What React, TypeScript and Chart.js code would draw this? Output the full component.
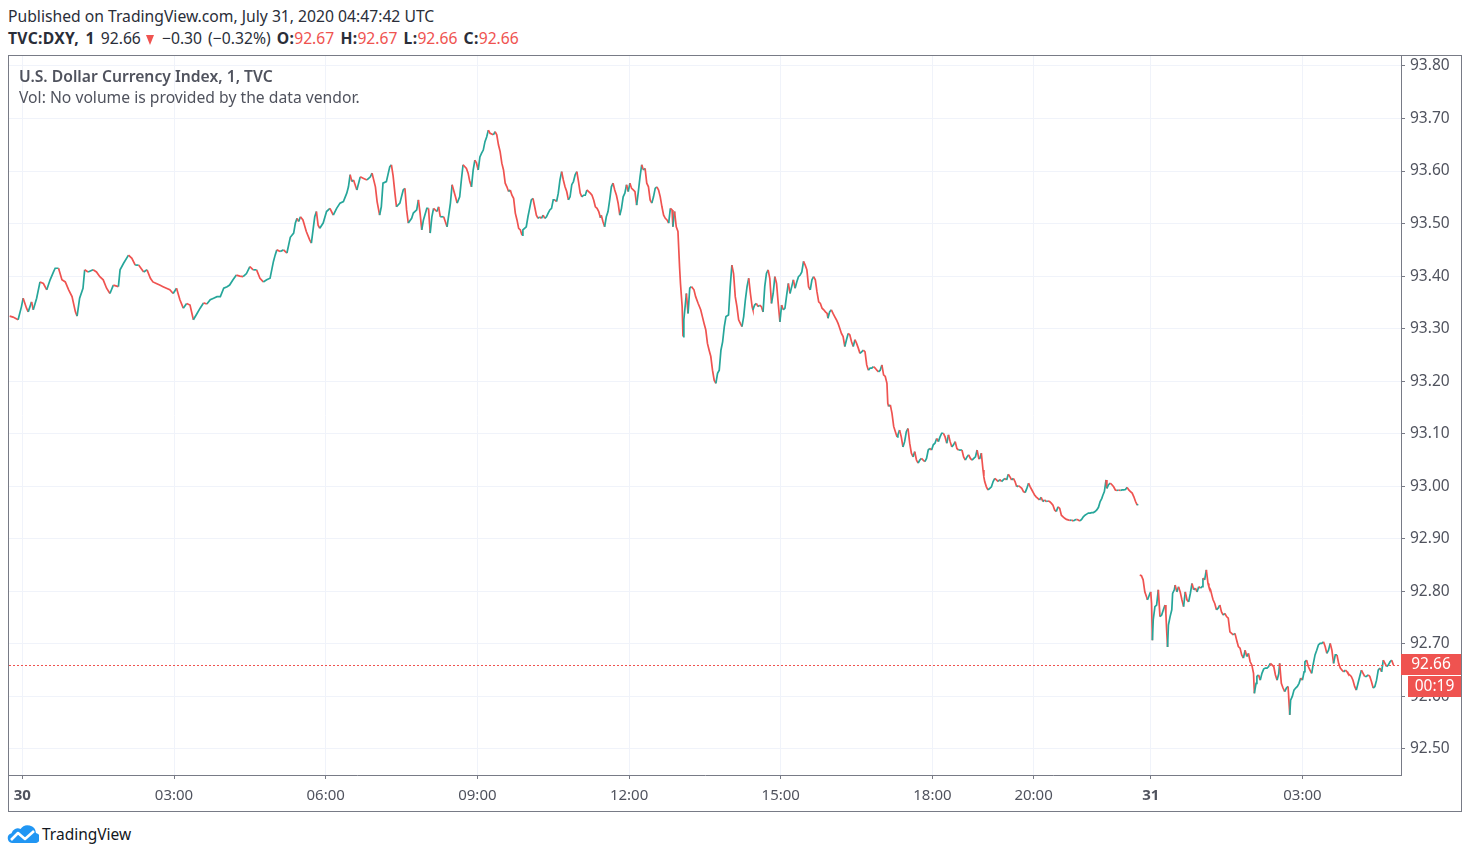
import React, { useEffect, useRef } from "react";
import { Chart, registerables } from "chart.js";

Chart.register(...registerables);

const FONT = "'Noto Sans', 'DejaVu Sans', sans-serif";
const UP = "#26a69a";
const DOWN = "#ef5350";
const AXIS_TEXT = "#50535e";
const GRID = "#f0f3fa";
const BORDER = "#787b86";

// price axis ticks
const priceTicks = [92.5, 92.6, 92.7, 92.8, 92.9, 93.0, 93.1, 93.2, 93.3, 93.4, 93.5, 93.6, 93.7, 93.8];
// time axis: bar index (1-minute bars, session gap removed) of each tick
const timeTickBars = [0, 180, 360, 540, 720, 900, 1080, 1200, 1339, 1519];
const timeTickLabels = ["30", "03:00", "06:00", "09:00", "12:00", "15:00", "18:00", "20:00", "31", "03:00"];
const boldTimeLabels = ["30", "31"];
const lastPrice = 92.66;
const countdown = "00:19";
const xRange = [-15.8, 1636];
const yRange = [92.4505, 93.819];

// Session 1 (Jul 30): bar index and close
const session1Bars = [
  -15, -11, -5, -1, 1, 5, 7, 11, 13, 17,
  21, 25, 29, 33, 37, 39, 43, 47, 51, 55,
  59, 63, 65, 68, 72, 74, 78, 84, 88, 92,
  96, 100, 104, 108, 114, 116, 120, 126, 130, 134,
  138, 144, 148, 152, 155, 159, 163, 167, 171, 175,
  179, 183, 187, 191, 195, 199, 203, 207, 211, 215,
  219, 223, 227, 231, 235, 239, 243, 246, 250, 254,
  258, 262, 266, 270, 274, 278, 282, 286, 290, 294,
  298, 300, 302, 306, 310, 314, 318, 322, 324, 326,
  328, 330, 333, 337, 341, 343, 345, 347, 349, 351,
  353, 357, 361, 365, 369, 373, 377, 381, 385, 387,
  389, 391, 393, 397, 401, 405, 409, 413, 415, 419,
  421, 424, 426, 428, 432, 436, 438, 440, 442, 444,
  448, 452, 454, 456, 458, 462, 464, 468, 470, 472,
  474, 476, 480, 482, 484, 486, 488, 492, 494, 496,
  500, 504, 506, 508, 510, 514, 516, 519, 521, 523,
  527, 529, 531, 533, 535, 537, 539, 541, 543, 545,
  547, 549, 551, 553, 555, 559, 561, 563, 565, 567,
  569, 571, 573, 575, 577, 579, 581, 583, 585, 587,
  589, 591, 593, 594, 596, 598, 600, 602, 604, 606,
  608, 610, 612, 614, 616, 618, 620, 622, 624, 626,
  628, 630, 632, 634, 636, 638, 640, 642, 644, 646,
  648, 650, 652, 654, 656, 658, 660, 662, 664, 666,
  668, 670, 672, 674, 676, 678, 680, 682, 684, 686,
  687, 689, 691, 693, 695, 697, 699, 701, 703, 705,
  707, 709, 711, 713, 715, 717, 719, 721, 723, 725,
  727, 729, 731, 733, 735, 737, 739, 741, 743, 745,
  747, 749, 751, 753, 755, 757, 759, 761, 763, 765,
  767, 769, 771, 772, 774, 776, 778, 780, 781, 783,
  784, 785, 788, 790, 792, 794, 797, 799, 802, 805,
  807, 809, 811, 813, 815, 817, 819, 821, 823, 825,
  827, 829, 831, 833, 835, 838, 840, 842, 844, 846,
  848, 850, 852, 854, 856, 858, 860, 862, 864, 866,
  867, 869, 871, 873, 875, 877, 879, 881, 883, 885,
  887, 889, 891, 893, 895, 897, 899, 901, 903, 905,
  907, 909, 911, 913, 915, 917, 919, 921, 923, 925,
  927, 929, 931, 933, 935, 937, 939, 941, 943, 945,
  947, 949, 951, 953, 955, 956, 958, 960, 962, 964,
  966, 968, 970, 972, 974, 976, 978, 980, 982, 984,
  986, 988, 990, 992, 994, 996, 998, 1000, 1002, 1004,
  1006, 1008, 1010, 1012, 1014, 1016, 1018, 1020, 1022, 1024,
  1026, 1027, 1028, 1030, 1032, 1034, 1036, 1038, 1039, 1041,
  1043, 1045, 1047, 1049, 1051, 1053, 1055, 1057, 1059, 1061,
  1063, 1065, 1067, 1069, 1071, 1073, 1075, 1077, 1079, 1081,
  1083, 1085, 1087, 1089, 1091, 1093, 1095, 1097, 1099, 1101,
  1103, 1105, 1107, 1109, 1111, 1113, 1115, 1117, 1119, 1121,
  1123, 1125, 1127, 1129, 1131, 1133, 1135, 1136, 1138, 1140,
  1141, 1142, 1144, 1146, 1148, 1150, 1152, 1154, 1156, 1158,
  1160, 1162, 1164, 1166, 1168, 1170, 1172, 1174, 1176, 1178,
  1180, 1182, 1184, 1186, 1188, 1190, 1192, 1194, 1196, 1198,
  1200, 1201, 1203, 1205, 1207, 1209, 1211, 1213, 1215, 1217,
  1219, 1221, 1223, 1225, 1227, 1229, 1231, 1233, 1235, 1237,
  1239, 1241, 1243, 1245, 1247, 1249, 1251, 1253, 1255, 1257,
  1259, 1261, 1263, 1265, 1267, 1269, 1271, 1273, 1275, 1277,
  1279, 1281, 1282, 1284, 1286, 1287, 1289, 1291, 1293, 1295,
  1297, 1299, 1301, 1303, 1305, 1307, 1309, 1311, 1313, 1315,
  1317, 1319, 1321, 1323, 1324,
];
const session1Closes = [
  93.324, 93.322, 93.317, 93.342, 93.358, 93.339, 93.332, 93.351, 93.336, 93.358,
  93.389, 93.386, 93.374, 93.393, 93.408, 93.415, 93.415, 93.393, 93.389, 93.374,
  93.361, 93.332, 93.324, 93.358, 93.377, 93.412, 93.408, 93.412, 93.408, 93.399,
  93.393, 93.377, 93.367, 93.383, 93.380, 93.412, 93.424, 93.440, 93.434, 93.421,
  93.421, 93.408, 93.412, 93.396, 93.389, 93.386, 93.383, 93.380, 93.377, 93.374,
  93.367, 93.377, 93.355, 93.339, 93.348, 93.345, 93.317, 93.328, 93.339, 93.349,
  93.347, 93.355, 93.358, 93.361, 93.361, 93.377, 93.380, 93.383, 93.393, 93.402,
  93.400, 93.399, 93.405, 93.418, 93.412, 93.412, 93.396, 93.389, 93.393, 93.396,
  93.428, 93.440, 93.450, 93.447, 93.450, 93.444, 93.474, 93.482, 93.501, 93.510,
  93.504, 93.513, 93.507, 93.485, 93.469, 93.463, 93.488, 93.513, 93.523, 93.497,
  93.491, 93.501, 93.523, 93.529, 93.516, 93.529, 93.539, 93.542, 93.558, 93.570,
  93.593, 93.580, 93.583, 93.564, 93.589, 93.586, 93.583, 93.589, 93.596, 93.570,
  93.542, 93.516, 93.532, 93.577, 93.580, 93.608, 93.612, 93.591, 93.560, 93.532,
  93.539, 93.564, 93.567, 93.526, 93.501, 93.510, 93.520, 93.526, 93.545, 93.520,
  93.488, 93.507, 93.529, 93.529, 93.482, 93.513, 93.529, 93.523, 93.532, 93.513,
  93.513, 93.494, 93.516, 93.539, 93.574, 93.551, 93.539, 93.551, 93.583, 93.612,
  93.605, 93.596, 93.580, 93.570, 93.602, 93.621, 93.615, 93.602, 93.627, 93.634,
  93.640, 93.656, 93.665, 93.678, 93.672, 93.669, 93.675, 93.669, 93.650, 93.637,
  93.615, 93.602, 93.577, 93.570, 93.561, 93.564, 93.554, 93.548, 93.520, 93.507,
  93.491, 93.488, 93.478, 93.488, 93.491, 93.494, 93.513, 93.529, 93.545, 93.548,
  93.532, 93.516, 93.510, 93.513, 93.510, 93.516, 93.510, 93.513, 93.520, 93.526,
  93.529, 93.545, 93.545, 93.542, 93.558, 93.583, 93.599, 93.583, 93.570, 93.561,
  93.545, 93.551, 93.574, 93.580, 93.593, 93.599, 93.580, 93.558, 93.551, 93.554,
  93.554, 93.564, 93.561, 93.558, 93.554, 93.545, 93.532, 93.529, 93.523, 93.511,
  93.516, 93.504, 93.494, 93.513, 93.523, 93.545, 93.570, 93.577, 93.564, 93.554,
  93.539, 93.516, 93.529, 93.551, 93.558, 93.574, 93.561, 93.577, 93.567, 93.564,
  93.561, 93.535, 93.561, 93.589, 93.612, 93.602, 93.605, 93.577, 93.570, 93.545,
  93.539, 93.551, 93.567, 93.570, 93.564, 93.551, 93.532, 93.516, 93.510, 93.507,
  93.501, 93.529, 93.526, 93.494, 93.523, 93.494, 93.485, 93.415, 93.386, 93.342,
  93.285, 93.317, 93.367, 93.329, 93.377, 93.380, 93.374, 93.361, 93.348, 93.336,
  93.323, 93.310, 93.298, 93.272, 93.259, 93.247, 93.221, 93.202, 93.196, 93.215,
  93.221, 93.259, 93.275, 93.304, 93.323, 93.326, 93.380, 93.421, 93.405, 93.361,
  93.342, 93.317, 93.310, 93.304, 93.323, 93.355, 93.380, 93.396, 93.367, 93.342,
  93.336, 93.345, 93.348, 93.342, 93.345, 93.342, 93.332, 93.380, 93.405, 93.412,
  93.396, 93.348, 93.367, 93.399, 93.386, 93.348, 93.313, 93.345, 93.336, 93.339,
  93.364, 93.386, 93.367, 93.380, 93.393, 93.377, 93.389, 93.399, 93.402, 93.408,
  93.428, 93.421, 93.412, 93.380, 93.374, 93.393, 93.399, 93.393, 93.370, 93.351,
  93.348, 93.339, 93.336, 93.332, 93.329, 93.320, 93.332, 93.336, 93.329, 93.323,
  93.317, 93.310, 93.301, 93.291, 93.285, 93.266, 93.279, 93.291, 93.288, 93.275,
  93.266, 93.279, 93.272, 93.263, 93.253, 93.256, 93.259, 93.256, 93.231, 93.221,
  93.225, 93.225, 93.228, 93.225, 93.221, 93.218, 93.221, 93.231, 93.212, 93.209,
  93.196, 93.158, 93.152, 93.155, 93.139, 93.114, 93.104, 93.094, 93.098, 93.107,
  93.094, 93.075, 93.085, 93.104, 93.110, 93.082, 93.063, 93.056, 93.066, 93.050,
  93.044, 93.050, 93.053, 93.050, 93.047, 93.053, 93.069, 93.072, 93.069, 93.079,
  93.082, 93.091, 93.085, 93.094, 93.101, 93.101, 93.094, 93.082, 93.098, 93.085,
  93.075, 93.079, 93.085, 93.072, 93.069, 93.069, 93.069, 93.056, 93.050, 93.056,
  93.060, 93.053, 93.050, 93.053, 93.056, 93.069, 93.053, 93.052, 93.063, 93.031,
  93.018, 93.009, 92.999, 92.993, 92.996, 92.999, 93.009, 93.015, 93.012, 93.009,
  93.013, 93.009, 93.012, 93.015, 93.012, 93.023, 93.018, 93.012, 93.015, 93.009,
  92.999, 93.001, 92.999, 92.996, 92.990, 92.988, 92.996, 93.006, 92.999, 92.993,
  92.987, 92.984, 92.980, 92.977, 92.974, 92.979, 92.971, 92.974, 92.971, 92.972,
  92.971, 92.968, 92.964, 92.955, 92.952, 92.961, 92.958, 92.945, 92.942, 92.939,
  92.937, 92.936, 92.935, 92.936, 92.934, 92.936, 92.937, 92.936, 92.934, 92.937,
  92.942, 92.945, 92.947, 92.949, 92.949, 92.950, 92.950, 92.952, 92.955, 92.960,
  92.971, 92.977, 92.982, 92.990, 93.012, 92.996, 93.003, 93.006, 93.003, 92.999,
  92.993, 92.992, 92.993, 92.992, 92.993, 92.993, 92.994, 92.998, 92.993, 92.990,
  92.987, 92.980, 92.971, 92.964, 92.966,
];

// Session 2 (from Jul 30 evening into Jul 31)
const session2Bars = [
  1326, 1328, 1330, 1332, 1334, 1335, 1336, 1338, 1339, 1340,
  1341, 1342, 1344, 1346, 1348, 1350, 1352, 1354, 1356, 1357,
  1358, 1359, 1360, 1362, 1364, 1365, 1367, 1368, 1370, 1372,
  1374, 1376, 1378, 1380, 1382, 1384, 1386, 1388, 1390, 1392,
  1394, 1396, 1398, 1400, 1401, 1403, 1405, 1407, 1408, 1410,
  1412, 1413, 1415, 1417, 1419, 1421, 1423, 1425, 1427, 1429,
  1431, 1433, 1435, 1437, 1439, 1441, 1443, 1445, 1447, 1449,
  1451, 1453, 1455, 1457, 1459, 1461, 1462, 1464, 1465, 1467,
  1469, 1471, 1473, 1475, 1477, 1479, 1481, 1485, 1487, 1489,
  1491, 1492, 1494, 1496, 1498, 1500, 1502, 1504, 1505, 1507,
  1509, 1511, 1513, 1515, 1517, 1519, 1521, 1522, 1524, 1526,
  1528, 1530, 1532, 1534, 1536, 1538, 1540, 1542, 1544, 1546,
  1548, 1550, 1552, 1554, 1556, 1558, 1560, 1562, 1564, 1566,
  1568, 1570, 1572, 1573, 1575, 1577, 1579, 1581, 1583, 1585,
  1587, 1589, 1591, 1593, 1595, 1597, 1599, 1601, 1603, 1605,
  1607, 1609, 1611, 1613, 1615, 1617, 1619, 1621, 1623, 1625, 1627,
];
const session2Closes = [
  92.831, 92.830, 92.822, 92.799, 92.790, 92.784, 92.787, 92.796, 92.799, 92.777,
  92.707, 92.746, 92.771, 92.774, 92.803, 92.752, 92.755, 92.765, 92.774, 92.758,
  92.723, 92.694, 92.736, 92.752, 92.765, 92.796, 92.803, 92.812, 92.799, 92.809,
  92.799, 92.784, 92.771, 92.799, 92.784, 92.780, 92.796, 92.815, 92.803, 92.806,
  92.799, 92.809, 92.806, 92.809, 92.825, 92.822, 92.841, 92.815, 92.809, 92.803,
  92.790, 92.784, 92.777, 92.765, 92.768, 92.774, 92.761, 92.755, 92.758, 92.752,
  92.749, 92.723, 92.720, 92.717, 92.720, 92.707, 92.695, 92.692, 92.679, 92.673,
  92.688, 92.676, 92.682, 92.666, 92.660, 92.644, 92.606, 92.625, 92.638, 92.641,
  92.631, 92.644, 92.652, 92.654, 92.654, 92.657, 92.663, 92.657, 92.641, 92.631,
  92.644, 92.663, 92.625, 92.616, 92.609, 92.616, 92.619, 92.565, 92.593, 92.600,
  92.612, 92.616, 92.619, 92.625, 92.635, 92.631, 92.647, 92.666, 92.669, 92.657,
  92.650, 92.644, 92.663, 92.679, 92.688, 92.698, 92.701, 92.701, 92.704, 92.695,
  92.682, 92.688, 92.701, 92.688, 92.663, 92.679, 92.679, 92.663, 92.654, 92.650,
  92.647, 92.650, 92.647, 92.644, 92.641, 92.638, 92.631, 92.619, 92.612, 92.625,
  92.638, 92.650, 92.644, 92.638, 92.638, 92.641, 92.638, 92.628, 92.616, 92.619,
  92.631, 92.650, 92.654, 92.647, 92.669, 92.663, 92.657, 92.660, 92.666, 92.669, 92.660,
];

const lastPricePlugin = {
  id: "lastPrice",
  afterDatasetsDraw(chart: any) {
    const { ctx, chartArea, scales } = chart;
    const py = Math.round(scales.y.getPixelForValue(lastPrice)) + 0.5;
    ctx.save();
    ctx.strokeStyle = DOWN;
    ctx.lineWidth = 1;
    ctx.setLineDash([2, 2]);
    ctx.beginPath();
    ctx.moveTo(chartArea.left, py);
    ctx.lineTo(chartArea.right, py);
    ctx.stroke();
    ctx.restore();
  },
  afterDraw(chart: any) {
    const { ctx, chartArea, scales } = chart;
    const py = scales.y.getPixelForValue(lastPrice);
    const left = chartArea.right;
    const right = chart.width;
    const top1 = Math.round(py - 10.5);
    ctx.save();
    ctx.fillStyle = DOWN;
    ctx.fillRect(left, top1, right - left, 21);
    ctx.fillRect(left + 7, top1 + 22, right - left - 7, 21);
    ctx.fillStyle = "#ffffff";
    ctx.font = `15.5px ${FONT}`;
    ctx.textAlign = "center";
    ctx.textBaseline = "middle";
    ctx.fillText(lastPrice.toFixed(2), (left + right) / 2, top1 + 11);
    ctx.fillText(countdown, (left + 7 + right) / 2, top1 + 33);
    ctx.restore();
  },
};

function PriceChart() {
  const ref = useRef<HTMLCanvasElement>(null);
  useEffect(() => {
    const seg = {
      borderColor: (c: any) => (c.p1.parsed.y >= c.p0.parsed.y ? UP : DOWN),
    };
    const mk = (bars: number[], closes: number[]) => ({
      data: bars.map((b, i) => ({ x: b, y: closes[i] })),
      borderColor: UP,
      borderWidth: 1.7,
      pointRadius: 0,
      pointHoverRadius: 0,
      tension: 0,
      fill: false,
      segment: seg,
    });
    const noPad = (s: any) => {
      s.paddingTop = 0;
      s.paddingBottom = 0;
      s.paddingLeft = 0;
      s.paddingRight = 0;
    };
    const chart = new Chart(ref.current as HTMLCanvasElement, {
      type: "line",
      data: { datasets: [mk(session1Bars, session1Closes), mk(session2Bars, session2Closes)] as any },
      options: {
        animation: false,
        responsive: false,
        maintainAspectRatio: false,
        devicePixelRatio: 1,
        events: [],
        layout: { padding: 0 },
        plugins: { legend: { display: false }, tooltip: { enabled: false } },
        scales: {
          x: {
            type: "linear",
            position: "bottom",
            min: xRange[0],
            max: xRange[1],
            afterBuildTicks: (s: any) => {
              s.ticks = timeTickBars.map((v) => ({ value: v }));
            },
            afterFit: (s: any) => {
              s.height = 36;
              noPad(s);
            },
            ticks: {
              autoSkip: false,
              maxRotation: 0,
              minRotation: 0,
              padding: 8,
              color: AXIS_TEXT,
              callback: (v: any) => {
                const i = timeTickBars.indexOf(Number(v));
                return i >= 0 ? timeTickLabels[i] : "";
              },
              font: (ctx: any) => ({
                family: FONT,
                size: 15,
                weight: boldTimeLabels.includes(timeTickLabels[ctx.index]) ? "bold" : "normal",
              }),
            },
            grid: { color: GRID, tickColor: BORDER, tickLength: 4, drawTicks: true, lineWidth: 1 },
            border: { color: BORDER, width: 1 },
          } as any,
          y: {
            type: "linear",
            position: "right",
            min: yRange[0],
            max: yRange[1],
            afterBuildTicks: (s: any) => {
              s.ticks = priceTicks.map((v) => ({ value: v }));
            },
            afterFit: (s: any) => {
              s.width = 60;
              noPad(s);
            },
            ticks: {
              padding: 5,
              color: AXIS_TEXT,
              font: { family: FONT, size: 15.5 },
              callback: (v: any) => Number(v).toFixed(2),
            },
            grid: { color: GRID, tickColor: BORDER, tickLength: 4, drawTicks: true, lineWidth: 1 },
            border: { color: BORDER, width: 1 },
          } as any,
        },
      },
      plugins: [lastPricePlugin],
    });
    return () => chart.destroy();
  }, []);
  return <canvas ref={ref} width={1452} height={755} style={{ display: "block", width: 1452, height: 755 }} />;
}

function Logo() {
  return (
    <svg width="32" height="19" viewBox="0 0 32 19" style={{ position: "absolute", left: 7, top: 824 }}>
      <path
        d="M5 19 A5 5 0 0 1 4.5 9.2 A6.5 6.5 0 0 1 13.5 5 A8.5 8.5 0 0 1 29 9 A5 5 0 0 1 27 19 Z"
        fill="#2196f3"
      />
      <polyline points="4,16 11,9 18,15 27,7" fill="none" stroke="#ffffff" strokeWidth="2.6" strokeLinejoin="round" />
    </svg>
  );
}

export default function App() {
  const red = { color: DOWN };
  const bold = { fontWeight: 700, letterSpacing: "0.3px" };
  return (
    <div style={{ position: "absolute", left: 0, top: 0, width: 1470, height: 858, fontFamily: FONT }}>
      <div
        style={{
          position: "absolute",
          left: 8,
          top: 6,
          font: `15.7px/20px ${FONT}`,
          color: "#2a2e39",
          whiteSpace: "nowrap",
        }}
      >
        Published on TradingView.com, July 31, 2020 04:47:42 UTC
      </div>
      <div
        style={{
          position: "absolute",
          left: 8,
          top: 28,
          font: `15.7px/20px ${FONT}`,
          color: "#2a2e39",
          whiteSpace: "nowrap",
          wordSpacing: "2px",
        }}
      >
        <span style={bold}>TVC:DXY, 1</span> 92.66
        <span
          style={{
            display: "inline-block",
            width: 0,
            height: 0,
            marginLeft: 5,
            marginRight: 2,
            borderLeft: "4.5px solid transparent",
            borderRight: "4.5px solid transparent",
            borderTop: `10px solid ${DOWN}`,
            verticalAlign: "-1px",
          }}
        />{" "}
        −0.30 (−0.32%) <span style={bold}>O:</span>
        <span style={red}>92.67</span> <span style={bold}>H:</span>
        <span style={red}>92.67</span> <span style={bold}>L:</span>
        <span style={red}>92.66</span> <span style={bold}>C:</span>
        <span style={red}>92.66</span>
      </div>
      <div
        style={{
          position: "absolute",
          left: 8,
          top: 55,
          width: 1454,
          height: 757,
          boxSizing: "border-box",
          border: `1px solid ${BORDER}`,
        }}
      >
        <PriceChart />
        <div
          style={{
            position: "absolute",
            left: 10,
            top: 10,
            font: `600 15.7px/20px ${FONT}`,
            color: "#50535e",
            whiteSpace: "nowrap",
          }}
        >
          U.S. Dollar Currency Index, 1, TVC
        </div>
        <div
          style={{
            position: "absolute",
            left: 10,
            top: 31,
            font: `15.7px/20px ${FONT}`,
            color: "#50535e",
            whiteSpace: "nowrap",
          }}
        >
          Vol: No volume is provided by the data vendor.
        </div>
      </div>
      <Logo />
      <div
        style={{
          position: "absolute",
          left: 42,
          top: 824,
          font: `15.5px/20px ${FONT}`,
          color: "#131722",
          whiteSpace: "nowrap",
        }}
      >
        TradingView
      </div>
    </div>
  );
}
